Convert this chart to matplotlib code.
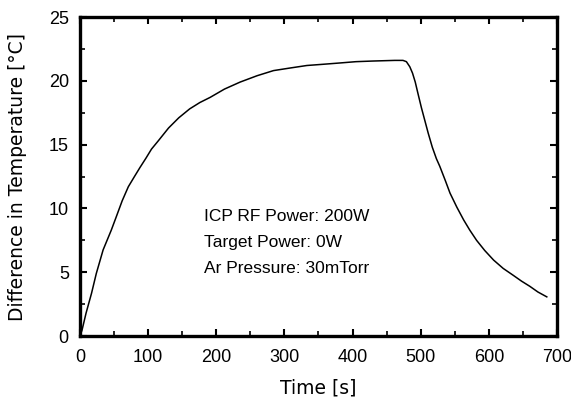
import matplotlib
matplotlib.use("Agg")
import matplotlib.pyplot as plt
from matplotlib.ticker import MultipleLocator

# values
time_s = [0, 3, 9, 17, 24, 34, 46, 53, 62, 71, 80, 88, 97, 105, 115, 130, 145,
          161, 176, 191, 212, 235, 260, 284, 308, 333, 358, 382, 405, 430, 462,
          474, 479, 484, 488, 492, 496, 501, 506, 511, 517, 523, 528, 536, 543,
          553, 563, 572, 582, 594, 607, 621, 636, 648, 660, 672, 685]
temp_c = [0.0, 0.45, 1.8, 3.35, 4.9, 6.75, 8.3, 9.3, 10.6, 11.7, 12.5, 13.2,
          13.95, 14.65, 15.3, 16.3, 17.1, 17.8, 18.3, 18.7, 19.35, 19.9, 20.4,
          20.8, 21.0, 21.2, 21.3, 21.4, 21.5, 21.55, 21.6, 21.6, 21.5, 21.1,
          20.6, 19.9, 19.0, 17.9, 16.9, 15.9, 14.8, 13.9, 13.3, 12.2, 11.2,
          10.1, 9.1, 8.3, 7.5, 6.7, 5.95, 5.3, 4.75, 4.3, 3.9, 3.45, 3.07]

info_lines = ["ICP RF Power: 200W", "Target Power: 0W", "Ar Pressure: 30mTorr"]

plt.rcParams['font.family'] = ['Liberation Sans', 'DejaVu Sans']
plt.rcParams['font.size'] = 13

fig = plt.figure(figsize=(5.71, 4.01), dpi=100)
ax = fig.add_axes([0.140, 0.162, 0.8355, 0.7956])

ax.plot(time_s, temp_c, color="black", linewidth=1.1)

ax.set_xlim(0, 700)
ax.set_ylim(0, 25)
ax.xaxis.set_major_locator(MultipleLocator(100))
ax.xaxis.set_minor_locator(MultipleLocator(50))
ax.yaxis.set_major_locator(MultipleLocator(5))
ax.yaxis.set_minor_locator(MultipleLocator(2.5))
ax.tick_params(which="both", direction="in", top=True, right=True, color="black")
ax.tick_params(which="major", length=5, width=1.5)
ax.tick_params(axis="x", which="major", pad=9.5)
ax.tick_params(axis="y", which="major", pad=8)
ax.tick_params(which="minor", length=3.5, width=1.2)
for side in ax.spines.values():
    side.set_linewidth(2.4)

label_font = dict(family=["DejaVu Sans"], size=13.5)
ax.set_xlabel("Time [s]", **label_font)
ax.set_ylabel("Difference in Temperature [°C]", **label_font)
ax.xaxis.set_label_coords(0.5, -0.163)
ax.xaxis.label.set_va("center")
ax.yaxis.set_label_coords(-0.130, 0.5)
ax.yaxis.label.set_va("center")

for i, line in enumerate(info_lines):
    ax.text(182, 9.4 - 2.05 * i, line, va="center", ha="left", fontsize=12.5)

fig.savefig("out.png", dpi=100)
